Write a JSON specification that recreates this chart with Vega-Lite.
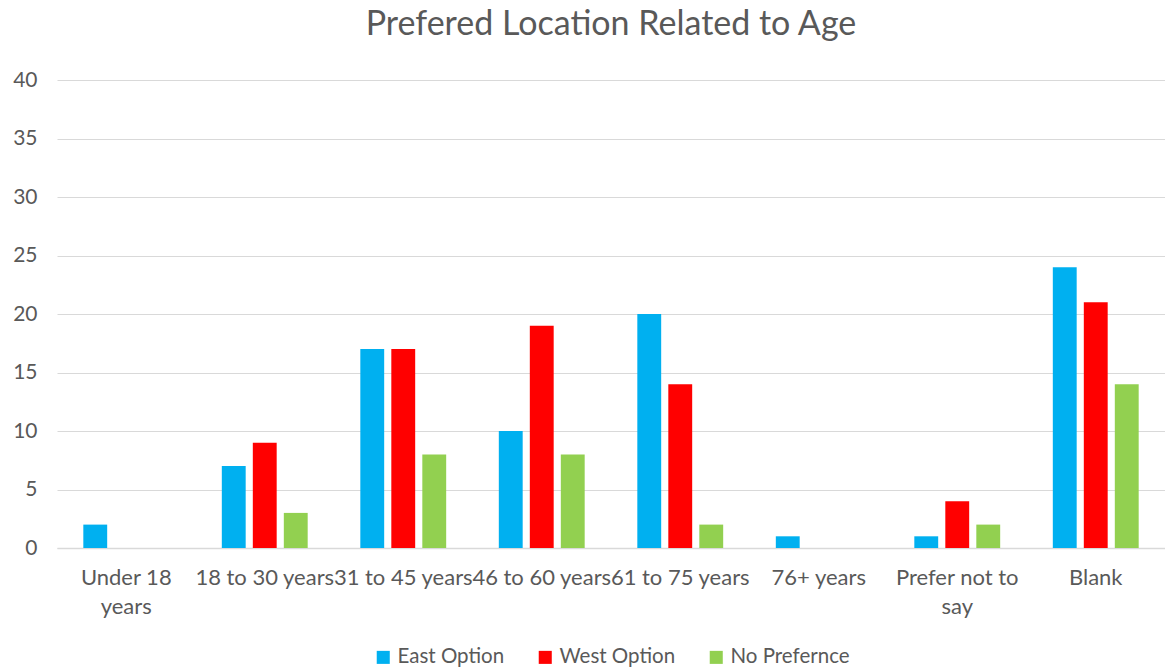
{
  "$schema": "https://vega.github.io/schema/vega-lite/v6.json",
  "width": 1165,
  "height": 672,
  "autosize": {"type": "fit", "contains": "padding"},
  "padding": {"left": 12, "right": 0, "top": 8, "bottom": 4},
  "background": "white",
  "title": {
    "text": "Prefered Location Related to Age",
    "font": "Lato",
    "fontSize": 34,
    "fontWeight": "normal",
    "color": "#595959",
    "offset": 27
  },
  "data": {
    "values": [
      {"age": "Under 18 years", "series": "East Option", "value": 2},
      {"age": "Under 18 years", "series": "West Option", "value": 0},
      {"age": "Under 18 years", "series": "No Prefernce", "value": 0},
      {"age": "18 to 30 years", "series": "East Option", "value": 7},
      {"age": "18 to 30 years", "series": "West Option", "value": 9},
      {"age": "18 to 30 years", "series": "No Prefernce", "value": 3},
      {"age": "31 to 45 years", "series": "East Option", "value": 17},
      {"age": "31 to 45 years", "series": "West Option", "value": 17},
      {"age": "31 to 45 years", "series": "No Prefernce", "value": 8},
      {"age": "46 to 60 years", "series": "East Option", "value": 10},
      {"age": "46 to 60 years", "series": "West Option", "value": 19},
      {"age": "46 to 60 years", "series": "No Prefernce", "value": 8},
      {"age": "61 to 75 years", "series": "East Option", "value": 20},
      {"age": "61 to 75 years", "series": "West Option", "value": 14},
      {"age": "61 to 75 years", "series": "No Prefernce", "value": 2},
      {"age": "76+ years", "series": "East Option", "value": 1},
      {"age": "76+ years", "series": "West Option", "value": 0},
      {"age": "76+ years", "series": "No Prefernce", "value": 0},
      {"age": "Prefer not to say", "series": "East Option", "value": 1},
      {"age": "Prefer not to say", "series": "West Option", "value": 4},
      {"age": "Prefer not to say", "series": "No Prefernce", "value": 2},
      {"age": "Blank", "series": "East Option", "value": 24},
      {"age": "Blank", "series": "West Option", "value": 21},
      {"age": "Blank", "series": "No Prefernce", "value": 14}
    ]
  },
  "mark": {"type": "bar"},
  "encoding": {
    "x": {
      "field": "age",
      "type": "nominal",
      "sort": null,
      "title": null,
      "scale": {"paddingInner": 0.38, "paddingOuter": 0.19},
      "axis": {
        "labelAngle": 0,
        "labelFont": "Lato",
        "labelFontSize": 22,
        "labelColor": "#595959",
        "labelPadding": 19,
        "ticks": false,
        "domainColor": "#d9d9d9",
        "domainWidth": 1.5,
        "labelLimit": 300,
        "labelExpr": "datum.value == 'Under 18 years' ? ['Under 18', 'years'] : datum.value == 'Prefer not to say' ? ['Prefer not to', 'say'] : datum.value",
        "labelLineHeight": 29
      }
    },
    "xOffset": {
      "field": "series",
      "type": "nominal",
      "sort": ["East Option", "West Option", "No Prefernce"],
      "scale": {"paddingInner": 0.23}
    },
    "y": {
      "field": "value",
      "type": "quantitative",
      "title": null,
      "scale": {"domain": [0, 40]},
      "axis": {
        "values": [0, 5, 10, 15, 20, 25, 30, 35, 40],
        "labelFont": "Lato",
        "labelFontSize": 21,
        "labelColor": "#595959",
        "labelPadding": 20,
        "ticks": false,
        "domain": false,
        "gridColor": "#d9d9d9",
        "gridWidth": 1.2
      }
    },
    "color": {
      "field": "series",
      "type": "nominal",
      "sort": ["East Option", "West Option", "No Prefernce"],
      "scale": {
        "domain": ["East Option", "West Option", "No Prefernce"],
        "range": ["#00b0f0", "#ff0000", "#92d050"]
      },
      "legend": {
        "title": null,
        "orient": "bottom",
        "direction": "horizontal",
        "symbolType": "square",
        "symbolSize": 170,
        "symbolStrokeWidth": 0,
        "labelFont": "Lato",
        "labelFontSize": 20.5,
        "labelColor": "#595959",
        "columnPadding": 30,
        "offset": 30
      }
    }
  },
  "config": {
    "view": {"stroke": null},
    "legend": {"layout": {"bottom": {"anchor": "middle"}}}
  }
}
